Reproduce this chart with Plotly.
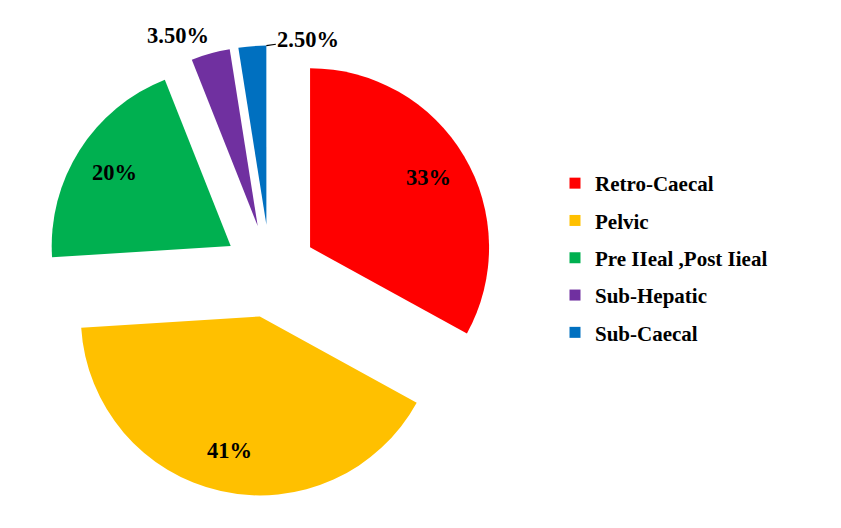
import math
import plotly.graph_objects as go

categories = ["Retro-Caecal", "Pelvic", "Pre IIeal ,Post Iieal", "Sub-Hepatic", "Sub-Caecal"]
values = [33, 41, 20, 3.5, 2.5]
value_labels = ["33%", "41%", "20%", "3.50%", "2.50%"]
colors = ["#FF0000", "#FFC000", "#00B050", "#7030A0", "#0070C0"]

FONT = "Liberation Serif"
W, H = 841, 528

# pie geometry (pixels)
cx, cy = 262, 263
r = 179
pull = 0.26
half = r * (1 + pull)

fig = go.Figure()
fig.add_trace(go.Pie(
    labels=categories,
    values=values,
    textinfo="none",
    marker=dict(colors=colors, line=dict(width=0)),
    pull=[pull] * len(values),
    sort=False,
    direction="clockwise",
    rotation=0,
    showlegend=False,
    hoverinfo="label+percent",
    domain=dict(x=[(cx - half) / W, (cx + half) / W],
                y=[(H - cy - half) / H, (H - cy + half) / H]),
))

# data labels positioned from the slice angles
def px2paper(px, py):
    return px / W, 1 - py / H

total = sum(values)
cum = 0.0
label_font = dict(family=FONT, size=22.5, color="black", weight="bold")
annotations = []
for i, (v, lab) in enumerate(zip(values, value_labels)):
    a0 = cum / total * 2 * math.pi
    a1 = (cum + v) / total * 2 * math.pi
    cum += v
    mid = (a0 + a1) / 2
    ox = cx + math.sin(mid) * pull * r
    oy = cy - math.cos(mid) * pull * r
    if v >= 10:
        d = 0.77 * r
        x, y = px2paper(ox + math.sin(mid) * d, oy - math.cos(mid) * d)
        annotations.append(dict(x=x, y=y, xref="paper", yref="paper", text=lab,
                                showarrow=False, font=label_font,
                                xanchor="center", yanchor="middle"))
    elif i == 3:
        x, y = px2paper(ox + math.sin(mid) * r, oy - math.cos(mid) * r)
        annotations.append(dict(x=x, y=y, xref="paper", yref="paper", text=lab,
                                showarrow=False, font=label_font,
                                xanchor="right", yanchor="middle",
                                xshift=1, yshift=18))
    else:
        x, y = px2paper(ox + math.sin(a1) * r, oy - math.cos(a1) * r)
        annotations.append(dict(x=x, y=y, xref="paper", yref="paper", text=lab,
                                showarrow=True, arrowhead=0, arrowwidth=1.2,
                                arrowcolor="black", ax=42, ay=-6,
                                font=label_font, xanchor="center", yanchor="middle"))

# legend entries
for name, col in zip(categories, colors):
    fig.add_trace(go.Scatter(
        x=[None], y=[None], mode="markers", name=name,
        legendgroup=name,
        marker=dict(symbol="square", size=11, color=col),
        hoverinfo="skip",
    ))

fig.update_layout(
    width=W, height=H,
    margin=dict(l=0, r=0, t=0, b=0, autoexpand=False),
    paper_bgcolor="white", plot_bgcolor="white",
    xaxis=dict(visible=False), yaxis=dict(visible=False),
    annotations=annotations,
    legend=dict(
        x=547 / W, y=1 - 250 / H, xanchor="left", yanchor="middle",
        font=dict(family=FONT, size=21, color="black", weight="bold"),
        traceorder="grouped", tracegroupgap=7,
        itemwidth=30, bgcolor="rgba(0,0,0,0)",
    ),
)

fig.write_html("out.html")
